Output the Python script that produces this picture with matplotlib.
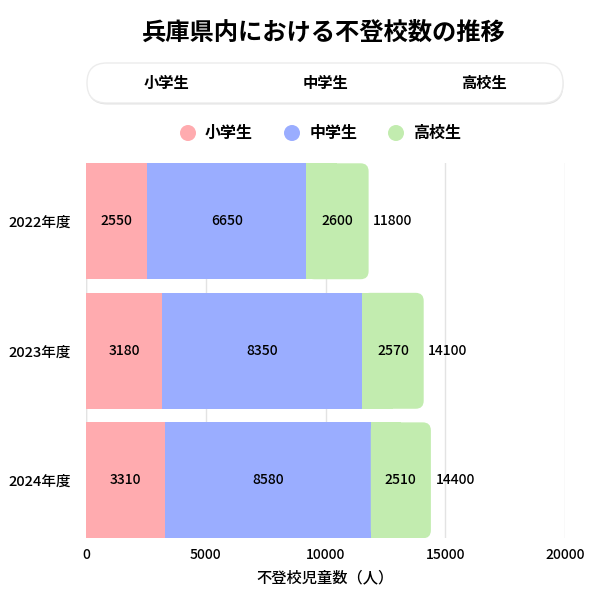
import matplotlib
matplotlib.use("Agg")
import matplotlib.pyplot as plt
from matplotlib.patches import FancyBboxPatch, Circle, Rectangle
import numpy as np

plt.rcParams['font.family'] = ['Noto Sans CJK JP', 'DejaVu Sans']

title = "兵庫県内における不登校数の推移"
years = ["2022年度", "2023年度", "2024年度"]
series_names = ["小学生", "中学生", "高校生"]
elementary = [2550, 3180, 3310]
junior = [6650, 8350, 8580]
high = [2600, 2570, 2510]
totals = [11800, 14100, 14400]
xticks = [0, 5000, 10000, 15000, 20000]
xlabel = "不登校児童数（人）"

colors = ["#FFABAF", "#9AADFF", "#C2ECAF"]
TW = 'medium'

fig = plt.figure(figsize=(6, 6), dpi=100)
ax = fig.add_axes([86/600, 1-538.3/600, 479/600, 375/600])

y = np.arange(len(years))
h = 0.895
left = np.zeros(len(years))
series = [elementary, junior, high]
for i, (vals, c) in enumerate(zip(series, colors)):
    vals = np.array(vals, dtype=float)
    if i < len(series) - 1:
        ax.barh(y, vals, left=left, height=h, color=c, zorder=2, linewidth=0)
    for yi, l, v in zip(y, left, vals):
        ax.text(l + v/2, yi, f"{int(v)}", ha='center', va='center',
                fontsize=10, color='black', zorder=4, fontweight=TW)
    left = left + vals

ax.set_xlim(0, 20000)
ax.set_ylim(2 + h/2, -h/2)
ax.set_yticks(y)
ax.set_yticklabels(years, fontsize=10.5, fontweight=TW)
ax.set_xticks(xticks)
ax.set_xticklabels([str(t) for t in xticks], fontsize=10, fontweight=TW)
ax.tick_params(length=0, pad=7)
ax.tick_params(axis='y', pad=11)
ax.grid(axis='x', color='#E3E3E3', linewidth=1, zorder=0)
ax.set_axisbelow(True)
for s in ax.spines.values():
    s.set_visible(False)
ax.axvline(0, color='#E3E3E3', linewidth=1, zorder=1)
ax.set_xlabel(xlabel, fontsize=11, labelpad=5, fontweight=TW)

for yi, t in zip(y, totals):
    ax.text(t + 190, yi, f"{t}", ha='left', va='center', fontsize=10, zorder=4,
            fontweight=TW)

fig.canvas.draw()
# green segments with rounded right end (pixel space)
left = np.array(elementary, float) + np.array(junior, float)
trans = ax.transData
for yi, l, v in zip(y, left, high):
    x0, y0 = trans.transform((l, yi + h/2))
    x1, y1 = trans.transform((l + v, yi - h/2))
    r = 8
    box = FancyBboxPatch((x0, y0), x1 - x0, y1 - y0,
                         boxstyle=f"round,pad=0,rounding_size={r}",
                         transform=None, color=colors[2], zorder=2, linewidth=0)
    ax.add_artist(box)
    sq = Rectangle((x0, y0), (x1 - x0)/2, y1 - y0, transform=None,
                   color=colors[2], zorder=2, linewidth=0)
    ax.add_artist(sq)

# Title
fig.text(324/600, 1-33/600, title, ha='center', va='center', fontsize=17.5, fontweight='bold')

# Button bar
shadow = FancyBboxPatch((87.5/600, 1-104.5/600), 476/600, 40/600,
                        boxstyle="round,pad=0,rounding_size=0.033",
                        transform=fig.transFigure, facecolor='#E2E2E2', edgecolor='none',
                        zorder=1)
fig.add_artist(shadow)
btn = FancyBboxPatch((87/600, 1-103/600), 476/600, 40/600,
                     boxstyle="round,pad=0,rounding_size=0.033",
                     transform=fig.transFigure, facecolor='white', edgecolor='#ECECEC',
                     linewidth=1, zorder=2)
fig.add_artist(btn)
for name, xc in zip(series_names, [166, 325, 484]):
    fig.text(xc/600, 1-83/600, name, ha='center', va='center', fontsize=11,
             fontweight='bold', zorder=3)

# Legend
for name, c, cx, tx in zip(series_names, colors, [188, 292, 396], [205, 310, 413]):
    circ = Circle((cx/600, 1-133/600), 8/600, transform=fig.transFigure,
                  facecolor=c, edgecolor='none')
    fig.add_artist(circ)
    fig.text(tx/600, 1-133/600, name, ha='left', va='center', fontsize=11.5,
             fontweight='bold')

fig.savefig("out.png", dpi=100)
